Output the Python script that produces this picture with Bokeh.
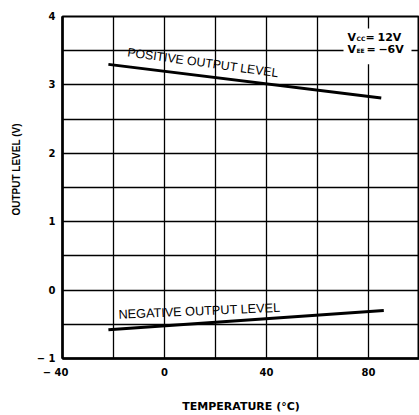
from bokeh.plotting import figure
from bokeh.models import FixedTicker, Range1d
from bokeh.core.properties import value
from bokeh.embed import file_html
from bokeh.resources import INLINE

# ---- data ----
temp_pos = [-22, 85]
level_pos = [3.30, 2.81]
temp_neg = [-22, 86]
level_neg = [-0.58, -0.30]

NB = "\u00a0"
x_ticks = [-40, 0, 40, 80]
x_tick_labels = ["−" + NB + "40" + NB * 4, "0", "40", "80"]
y_ticks = [-1, 0, 1, 2, 3, 4]
y_tick_labels = ["−" + NB + "1", "0", "1", "2", "3", "4"]
x_grid = [-20, 0, 20, 40, 60, 80]
y_grid = [-0.5, 0, 0.5, 1, 1.5, 2, 2.5, 3, 3.5]

FONT = "Liberation Sans"
BFONT = "DejaVu Sans"
W, H = 419, 415
LEFT, TOP, BOTTOM, RIGHT = 62, 16, 55, 0
X0, X1, Y0, Y1 = -40, 100, -1, 4
fw = W - LEFT - RIGHT
fh = H - TOP - BOTTOM
SHIFT = 5  # baseline correction for text (px)


def dx(px):
    return X0 + (px - LEFT) * (X1 - X0) / fw


def dy(py):
    return Y1 - (py - TOP) * (Y1 - Y0) / fh


p = figure(width=W, height=H, output_backend="svg", toolbar_location=None,
           x_range=Range1d(X0, X1), y_range=Range1d(Y0, Y1),
           min_border_left=LEFT, min_border_right=RIGHT,
           min_border_top=TOP, min_border_bottom=BOTTOM)
p.background_fill_color = "white"
p.border_fill_color = "white"
p.outline_line_color = "black"
p.outline_line_width = 2

p.xgrid.ticker = FixedTicker(ticks=x_grid)
p.ygrid.ticker = FixedTicker(ticks=y_grid)
for g in (p.xgrid, p.ygrid):
    g.grid_line_color = "black"
    g.grid_line_width = 1.3
    g.grid_line_alpha = 1.0

p.xaxis.ticker = FixedTicker(ticks=x_ticks)
p.yaxis.ticker = FixedTicker(ticks=y_ticks)
p.xaxis.major_label_overrides = {t: l for t, l in zip(x_ticks, x_tick_labels)}
p.yaxis.major_label_overrides = {t: l for t, l in zip(y_ticks, y_tick_labels)}

for ax in (p.xaxis, p.yaxis):
    ax.axis_line_width = 2.5
    ax.axis_line_color = "black"
    ax.major_tick_line_color = None
    ax.minor_tick_line_color = None
    ax.major_tick_out = 0
    ax.major_tick_in = 0
    ax.major_label_text_font = BFONT
    ax.major_label_text_font_size = "10px"
    ax.major_label_text_font_style = "bold"
    ax.major_label_text_color = "black"
    ax.axis_label_text_font_style = "bold"
    ax.axis_label_text_color = "black"

p.xaxis.axis_label = "TEMPERATURE (°C)"
p.xaxis.axis_label_text_font = BFONT
p.xaxis.axis_label_text_font_size = "11px"
p.xaxis.major_label_standoff = 8
p.xaxis.axis_label_standoff = 19

# leading no-break spaces lift the title above the frame centre, as in the reference
p.yaxis.axis_label = NB * 13 + "OUTPUT LEVEL (V)"
p.yaxis.axis_label_text_font = FONT
p.yaxis.axis_label_text_font_size = "10px"
p.yaxis.major_label_standoff = 7
p.yaxis.axis_label_standoff = 12

p.line(temp_pos, level_pos, line_color="black", line_width=3)
p.line(temp_neg, level_neg, line_color="black", line_width=3)


def txt(px, py, t, size, angle=0.0, style="normal", font=FONT):
    p.text(x=[dx(px)], y=[dy(py - SHIFT)], text=[t], angle=angle, angle_units="deg",
           text_baseline="alphabetic", text_align="left",
           text_font=value(font), text_font_size=value(size),
           text_font_style=style, text_color="black")


txt(127, 57, "POSITIVE OUTPUT LEVEL", "12.3px", angle=-7.9)
txt(118, 321, "NEGATIVE OUTPUT LEVEL", "12.7px", angle=2.5)

# supply voltage note on a white patch
p.quad(left=[dx(343)], right=[dx(411)], top=[dy(28)], bottom=[dy(64)],
       fill_color="white", line_color=None)
txt(347, 42, "V", "11px", style="bold", font=BFONT)
txt(356, 43.5, "CC", "6px", style="bold", font=BFONT)
txt(365, 42, "=", "11px", style="bold", font=BFONT)
txt(377, 42, "12V", "11px", style="bold", font=BFONT)
txt(347, 54, "V", "11px", style="bold", font=BFONT)
txt(356, 55.5, "EE", "6px", style="bold", font=BFONT)
txt(366, 54, "=", "11px", style="bold", font=BFONT)
txt(378, 54, "−", "11px", style="bold", font=BFONT)
txt(387, 54, "6V", "11px", style="bold", font=BFONT)

open("out.html", "w").write(file_html(p, INLINE))
